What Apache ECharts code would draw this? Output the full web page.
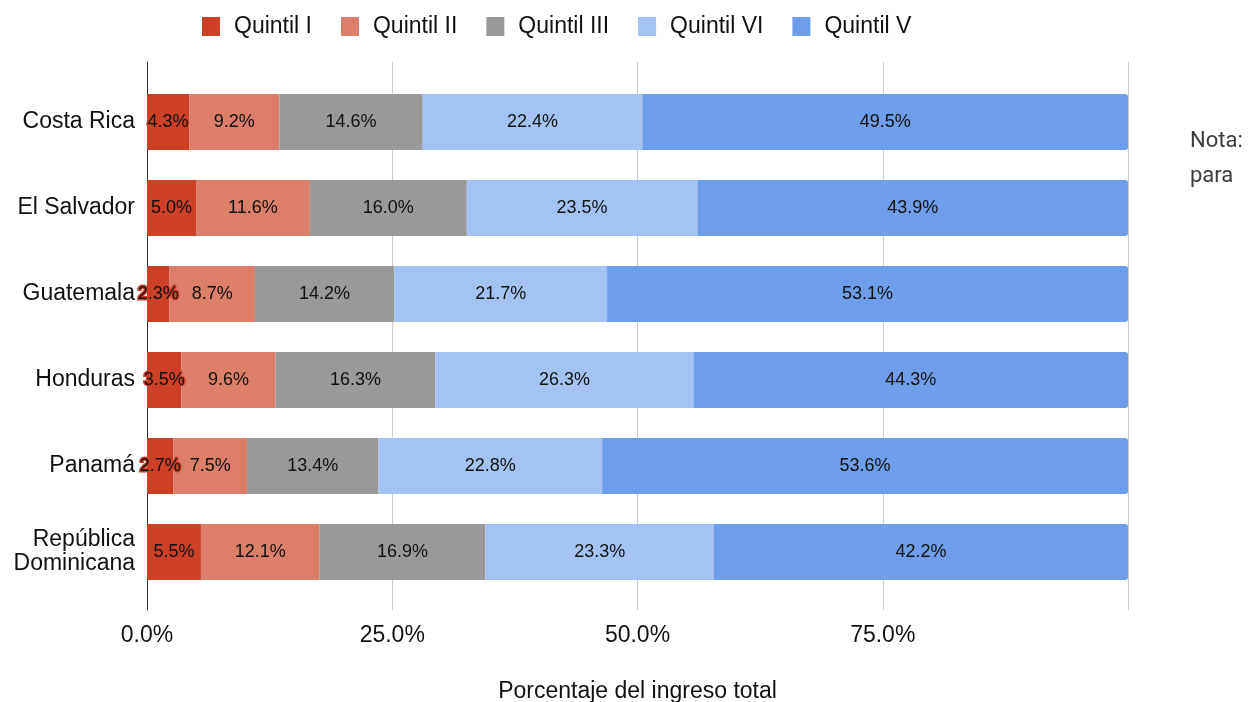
<!DOCTYPE html>
<html>
<head>
<meta charset="utf-8">
<script src="https://cdn.jsdelivr.net/npm/echarts@6/dist/echarts.min.js"></script>
<style>
  html, body { margin: 0; padding: 0; background: #fff; }
  #chart { width: 1248px; height: 702px; }
</style>
</head>
<body>
<div id="chart"></div>
<script>
var paises = ['Costa Rica', 'El Salvador', 'Guatemala', 'Honduras', 'Panamá', 'República\nDominicana']
var quintil1 = [4.3, 5.0, 2.3, 3.5, 2.7, 5.5]
var quintil2 = [9.2, 11.6, 8.7, 9.6, 7.5, 12.1]
var quintil3 = [14.6, 16.0, 14.2, 16.3, 13.4, 16.9]
var quintil4 = [22.4, 23.5, 21.7, 26.3, 22.8, 23.3]
var quintil5 = [49.5, 43.9, 53.1, 44.3, 53.6, 42.2]
var nombres = ['Quintil I', 'Quintil II', 'Quintil III', 'Quintil VI', 'Quintil V']
var colores = ['#cc4125', '#dd7e6b', '#999999', '#a4c2f4', '#6d9eeb']

var chartDom = document.getElementById('chart')
var myChart = echarts.init(chartDom)
var font = '"Liberation Sans", Arial, sans-serif'

function serie (i, data) {
  var s = {
    name: nombres[i],
    type: 'bar',
    stack: 'total',
    data: data,
    barWidth: '65%',
    itemStyle: { color: colores[i] },
    label: {
      show: true,
      position: 'inside',
      color: '#111',
      fontFamily: font,
      fontSize: 18,
      formatter: function (p) { return p.value.toFixed(1) + '%' }
    }
  }
  if (i === 0) {
    s.label.textBorderColor = colores[0]
    s.label.textBorderWidth = 3
  }
  if (i === 4) {
    s.itemStyle.borderRadius = [0, 3, 3, 0]
  }
  return s
}

var option = {
  animation: false,
  color: colores,
  legend: {
    top: 10,
    left: 197,
    itemWidth: 18,
    itemHeight: 19,
    itemGap: 29,
    icon: 'rect',
    textStyle: { fontFamily: font, fontSize: 23, color: '#111', padding: [0, 0, 0, 9] },
    data: nombres
  },
  grid: [
    { left: 147, right: 120, top: 79, bottom: 107, outerBoundsMode: 'none' },
    // only for the longer grid lines and the y axis line
    { left: 147, right: 120, top: 62, bottom: 92, outerBoundsMode: 'none' }
  ],
  xAxis: [
    {
      type: 'value',
      gridIndex: 0,
      min: 0,
      max: 100,
      interval: 25,
      name: 'Porcentaje del ingreso total',
      nameLocation: 'middle',
      nameGap: 85,
      nameTextStyle: { fontFamily: font, fontSize: 23, color: '#111' },
      axisLine: { show: false },
      axisTick: { show: false },
      axisLabel: {
        margin: 29,
        fontFamily: font,
        fontSize: 23,
        color: '#111',
        formatter: function (v) { return v === 100 ? '' : v.toFixed(1) + '%' }
      },
      splitLine: { show: false }
    },
    {
      type: 'value',
      gridIndex: 1,
      min: 0,
      max: 100,
      interval: 25,
      axisLine: { show: false },
      axisTick: { show: false },
      axisLabel: { show: false },
      splitLine: { show: true, lineStyle: { color: '#cccccc', width: 1 } }
    }
  ],
  yAxis: [
    {
      type: 'category',
      gridIndex: 0,
      inverse: true,
      data: paises,
      axisLine: { show: false },
      axisTick: { show: false },
      axisLabel: {
        margin: 12,
        fontFamily: font,
        fontSize: 23,
        color: '#111',
        lineHeight: 24,
        align: 'right'
      }
    },
    {
      type: 'value',
      gridIndex: 1,
      min: 0,
      max: 1,
      axisLine: { show: true, lineStyle: { color: '#333', width: 1 } },
      axisTick: { show: false },
      axisLabel: { show: false },
      splitLine: { show: false }
    }
  ],
  graphic: [
    {
      type: 'text',
      left: 1190,
      top: 124,
      style: {
        text: 'Nota:\npara',
        fontFamily: 'Roboto, sans-serif',
        fontSize: 22,
        lineHeight: 35,
        fill: '#3c3c3c'
      }
    }
  ],
  series: [
    serie(0, quintil1),
    serie(1, quintil2),
    serie(2, quintil3),
    serie(3, quintil4),
    serie(4, quintil5)
  ]
}

option && myChart.setOption(option)
</script>
</body>
</html>
